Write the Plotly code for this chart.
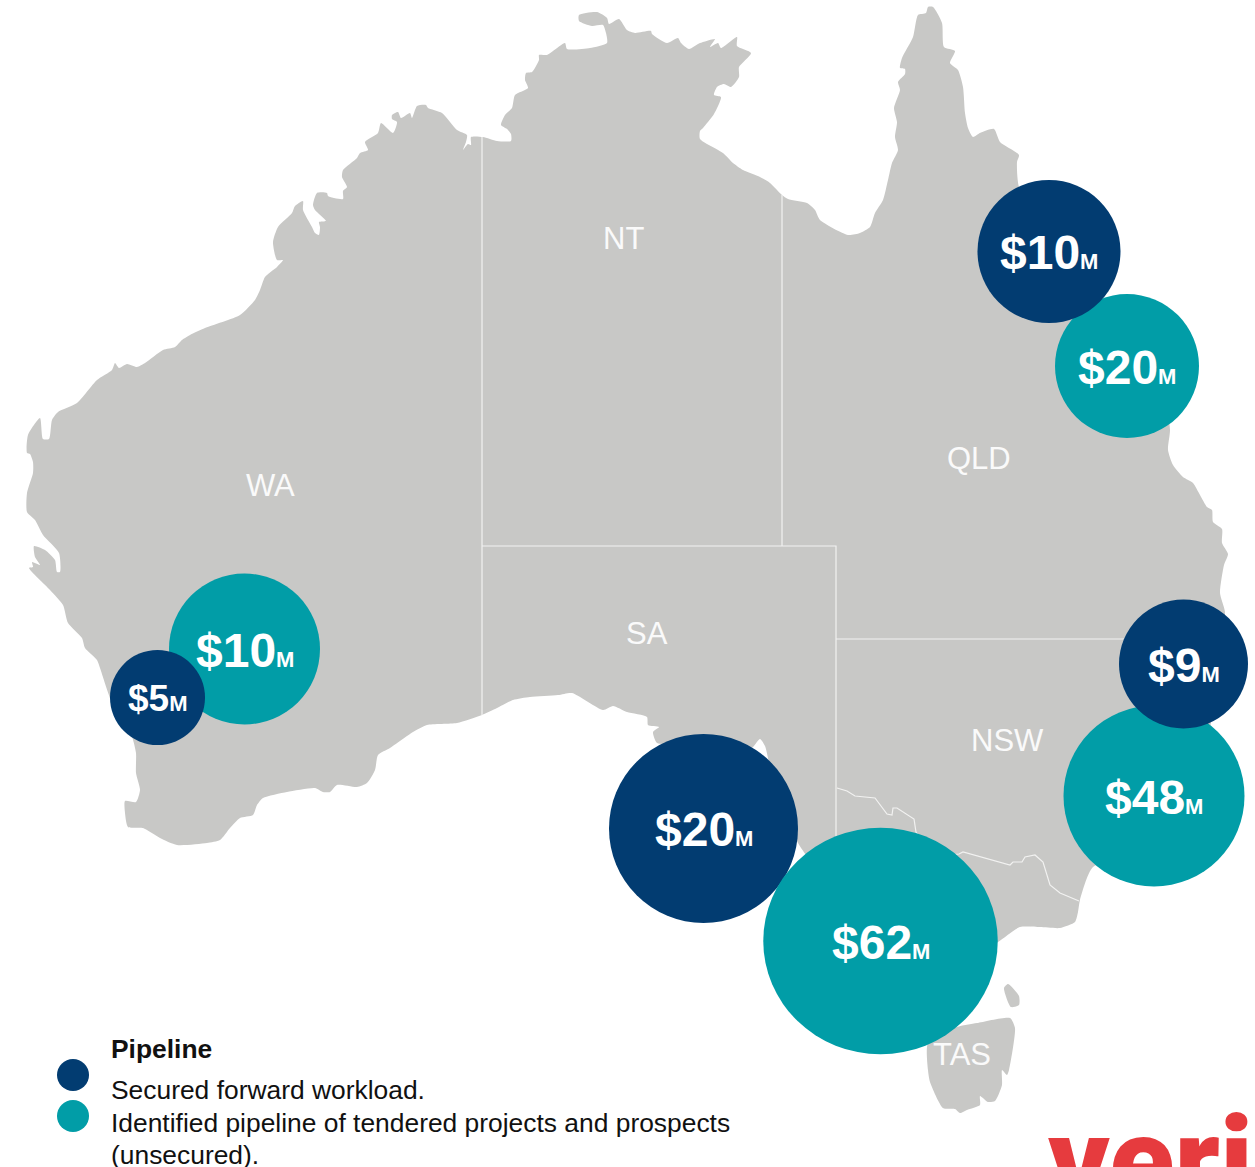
import plotly.graph_objects as go

WIDTH, HEIGHT = 1255, 1167

# Map outlines (picture units)
MAINLAND = [(483,137),(497,141),(511,141),(511,134),(507,129),(501,125),(505,115),(512,108),(515,95),(528,88),(525,80),(526,73),(532,72),(539,60),(539,55),(547,55),(553,51),(565,43),(567,49),(590,48),(607,43),(606,33),(603,25),(592,26),(579,21),(579,15),(597,12),(607,18),(609,24),(619,19),(627,30),(635,33),(651,31),(652,34),(667,43),(678,38),(681,43),(689,49),(700,43),(715,39),(710,47),(718,43),(721,48),(737,37),(737,46),(751,53),(739,67),(739,77),(731,87),(724,84),(717,87),(714,95),(721,97),(714,114),(703,128),(700,131),(700,139),(723,153),(733,163),(743,170),(760,177),(770,183),(782,195),(788,199),(807,203),(815,210),(820,220),(848,235),(860,233),(870,227),(875,213),(883,200),(888,180),(892,163),(898,150),(895,137),(897,122),(894,108),(900,90),(898,82),(905,74),(905,69),(900,68),(902,58),(913,37),(918,15),(926,13),(928,7),(933,7),(942,23),(944,47),(955,51),(950,63),(958,70),(963,87),(965,113),(968,128),(973,137),(980,133),(994,129),(1000,142),(1019,155),(1017,162),(1019,187),(1050,240),(1090,300),(1130,340),(1165,400),(1170,430),(1168,450),(1173,465),(1183,477),(1193,483),(1200,495),(1207,507),(1212,510),(1213,522),(1222,529),(1222,543),(1228,554),(1224,565),(1220,593),(1225,612),(1222,640),(1215,690),(1210,730),(1200,770),(1170,840),(1093,867),(1080,900),(1078,912),(1075,922),(1060,928),(1040,927),(1020,927),(998,942),(960,965),(940,970),(900,960),(860,930),(825,900),(807,857),(798,843),(775,790),(765,746),(760,739),(753,747),(735,760),(700,760),(675,745),(657,743),(653,732),(659,727),(648,725),(647,717),(627,712),(613,706),(603,710),(572,693),(558,695),(530,697),(513,700),(497,708),(482,715),(457,723),(427,725),(413,732),(390,748),(378,755),(375,770),(367,783),(357,787),(337,785),(330,792),(323,792),(315,788),(287,792),(263,798),(257,805),(253,815),(240,818),(230,828),(220,840),(207,843),(177,845),(160,838),(143,828),(128,827),(125,813),(125,801),(136,802),(140,790),(136,773),(136,753),(132,737),(112,703),(100,668),(97,660),(85,648),(82,638),(68,623),(63,605),(50,590),(29,568),(33,567),(32,562),(40,565),(35,557),(34,546),(45,550),(55,560),(57,572),(60,572),(59,553),(43,535),(35,520),(27,512),(27,493),(33,473),(33,462),(30,454),(27,453),(28,435),(40,418),(43,439),(49,439),(52,420),(58,412),(77,403),(97,380),(112,370),(115,363),(119,368),(127,364),(137,367),(145,363),(163,350),(175,347),(182,340),(190,335),(205,328),(240,315),(255,300),(260,290),(265,277),(277,267),(283,260),(277,260),(273,242),(278,227),(292,213),(295,206),(303,201),(303,210),(312,227),(315,233),(319,235),(320,227),(319,222),(326,221),(315,210),(313,205),(317,193),(327,193),(328,196),(343,199),(343,191),(347,187),(342,177),(343,170),(357,158),(360,153),(368,150),(365,142),(378,133),(381,123),(393,133),(397,122),(392,119),(392,115),(398,112),(401,118),(410,113),(412,118),(417,106),(426,105),(428,108),(442,113),(457,130),(467,135),(466,142),(463,150),(468,144),(471,145),(471,137),(483,137)]
TASMANIA = [(1010,1018),(1015,1028),(1009,1070),(1007,1075),(1002,1070),(1002,1085),(995,1101),(988,1102),(980,1096),(980,1105),(967,1110),(960,1113),(955,1109),(943,1108),(930,1082),(928,1070),(928,1043),(957,1027),(977,1023),(1010,1018)]
FLINDERS = [(1004,988),(1008,984),(1019,996),(1019,1005),(1011,1007),(1004,988)]

BORDER_WA = [(482,137),(482,715)]
BORDER_NT_QLD = [(782,195),(782,546)]
BORDER_SA_NORTH = [(482,546),(836,546),(836,840)]
BORDER_QLD_NSW = [(836,639),(1130,639)]
BORDER_VIC_WEST = [(837,788),(847,791),(855,796),(875,798),(887,814),(892,815),(893,808),(897,808),(914,819),(916,832),(925,845)]
BORDER_VIC_EAST = [(950,855),(959,854),(963,852),(1010,865),(1013,862),(1022,862),(1025,857),(1035,855),(1043,862),(1050,885),(1060,893),(1079,901)]
BORDERS = [BORDER_WA, BORDER_NT_QLD, BORDER_SA_NORTH, BORDER_QLD_NSW, BORDER_VIC_WEST, BORDER_VIC_EAST]

STATES = ["WA", "NT", "QLD", "SA", "NSW", "TAS"]
STATE_X = [270, 623, 979, 647, 1007, 962]
STATE_Y = [485, 238, 458, 633, 740, 1054]

# Pipeline values, $M
SECURED_VALUES = [5, 20, 9, 10]
SECURED_X = [157.5, 703.5, 1183.5, 1049]
SECURED_Y = [697.5, 828.5, 664, 251.5]
SECURED_D = [95, 189, 129, 143]

TENDERED_VALUES = [10, 48, 20]
TENDERED_X = [244.5, 1154, 1127]
TENDERED_Y = [649, 796, 366]
TENDERED_D = [151, 181, 144]

# Victoria's bubble is drawn slightly wider than tall in the picture
VIC_VALUE = 62
VIC_X, VIC_Y = 880.5, 941
VIC_W, VIC_H = 234.5, 226.5

LEGEND_TITLE = "Pipeline"
LEGEND_LINES = ["Secured forward workload.",
                "Identified pipeline of tendered projects and prospects",
                "(unsecured)."]
LEGEND_LINE_Y = [1090, 1123, 1155]

NAVY = "#023C71"
TEAL = "#019DA7"
LAND = "#C8C8C6"
FONT = "Liberation Sans"


def xs(pts):
    return [p[0] for p in pts]


def ys(pts):
    return [p[1] for p in pts]


def label(v, big, small):
    return f'<span style="font-size:{big}px">${v}</span><span style="font-size:{small}px">M</span>'


fig = go.Figure()

for poly in (MAINLAND, TASMANIA, FLINDERS):
    fig.add_trace(go.Scatter(x=xs(poly), y=ys(poly), mode="lines", fill="toself", fillcolor=LAND,
                             line=dict(width=0, color=LAND, shape="spline", smoothing=0.6),
                             hoverinfo="skip", showlegend=False))
for seg in BORDERS:
    fig.add_trace(go.Scatter(x=xs(seg), y=ys(seg), mode="lines",
                             line=dict(width=1.2, color="#F2F2F1"),
                             hoverinfo="skip", showlegend=False))

fig.add_trace(go.Scatter(x=TENDERED_X, y=TENDERED_Y, mode="markers",
                         marker=dict(size=TENDERED_D, color=TEAL, opacity=1, line=dict(width=0)),
                         hoverinfo="skip", showlegend=False))
fig.add_trace(go.Scatter(x=SECURED_X, y=SECURED_Y, mode="markers",
                         marker=dict(size=SECURED_D, color=NAVY, opacity=1, line=dict(width=0)),
                         hoverinfo="skip", showlegend=False))

# legend dots
fig.add_trace(go.Scatter(x=[73, 73], y=[1075, 1116], mode="markers",
                         marker=dict(size=32, color=[NAVY, TEAL], opacity=1, line=dict(width=0)),
                         hoverinfo="skip", showlegend=False))

fig.add_shape(type="circle", xref="x", yref="y", layer="above", fillcolor=TEAL, line=dict(width=0),
              x0=VIC_X - VIC_W / 2, x1=VIC_X + VIC_W / 2, y0=VIC_Y - VIC_H / 2, y1=VIC_Y + VIC_H / 2)

annotations = []
for v, x, y in zip(SECURED_VALUES + TENDERED_VALUES + [VIC_VALUE],
                   SECURED_X + TENDERED_X + [VIC_X], SECURED_Y + TENDERED_Y + [VIC_Y]):
    big, small = (37, 22) if v == 5 else (48, 22)
    annotations.append(dict(x=x, y=y + 1, text=label(v, big, small), showarrow=False,
                            xanchor="center", yanchor="middle",
                            font=dict(family=FONT, color="white", weight=700, size=big)))
for s, x, y in zip(STATES, STATE_X, STATE_Y):
    annotations.append(dict(x=x, y=y, text=s, showarrow=False, xanchor="center", yanchor="middle",
                            font=dict(family=FONT, color="#FAFAFA", size=31)))
annotations.append(dict(x=109, y=1049, text=LEGEND_TITLE, showarrow=False, xanchor="left", yanchor="middle",
                        font=dict(family=FONT, color="#111111", size=26.4, weight=700)))
for s, y in zip(LEGEND_LINES, LEGEND_LINE_Y):
    annotations.append(dict(x=109, y=y, text=s, showarrow=False, xanchor="left", yanchor="middle",
                            font=dict(family=FONT, color="#111111", size=26.4)))
annotations.append(dict(x=1046, y=1161, text="veris", showarrow=False, xanchor="left", yanchor="middle",
                        font=dict(family="Roboto", color="#E63B3E", size=120, weight=900)))

fig.update_layout(width=WIDTH, height=HEIGHT, margin=dict(l=0, r=0, t=0, b=0),
                  paper_bgcolor="white", plot_bgcolor="white", showlegend=False,
                  xaxis=dict(range=[0, WIDTH], visible=False, fixedrange=True),
                  yaxis=dict(range=[HEIGHT, 0], visible=False, fixedrange=True),
                  annotations=annotations)
fig.write_html("out.html", config=dict(displayModeBar=False),
               post_script="document.body.style.margin='0';document.documentElement.style.overflow='hidden';")
